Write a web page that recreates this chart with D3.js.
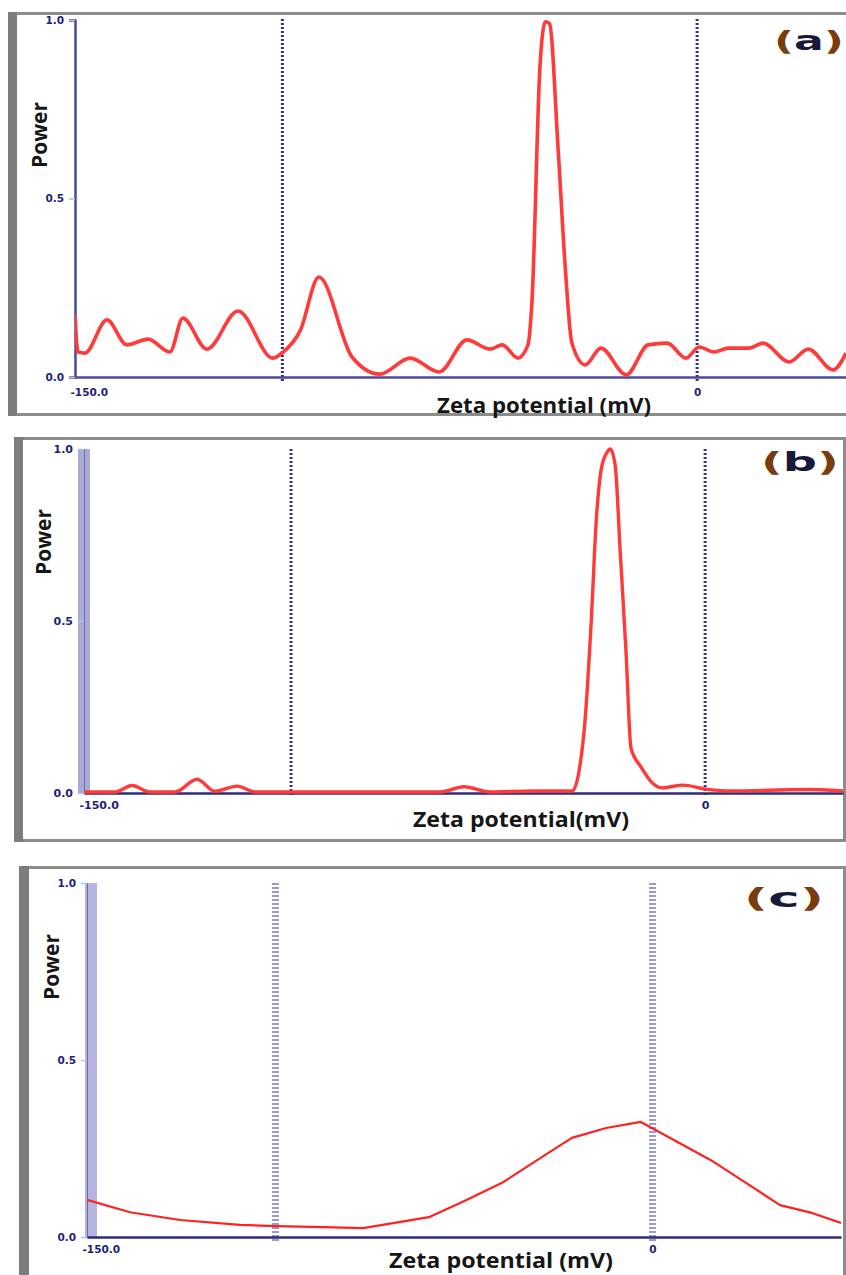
<!DOCTYPE html>
<html><head><meta charset="utf-8">
<script src="https://cdn.jsdelivr.net/npm/d3@7"></script>
<style>body{margin:0;background:#fff} svg{display:block}</style>
</head><body>
<svg id="chart" width="846" height="1275"></svg>
<script>
// ---------- data ----------
const aZeta  = [-150.0,-149.3,-147.6,-142.3,-137.5,-132.4,-127.1,-124.0,-118.2,-110.7,-102.3,-99.8,-95.7,-91.2,-83.2,-76.5,-69.2,-62.2,-55.5,-49.9,-47.0,-43.2,-40.8,-39.8,-37.9,-36.6,-35.6,-33.5,-31.8,-30.2,-27.0,-23.2,-17.1,-11.8,-7.2,-2.7,0.5,4.1,7.5,12.5,15.9,22.2,26.8,32.8,35.9];
const aPower = [0.174,0.070,0.067,0.160,0.090,0.106,0.070,0.165,0.078,0.185,0.053,0.070,0.130,0.280,0.056,0.008,0.053,0.014,0.104,0.078,0.090,0.053,0.090,0.216,0.868,0.995,0.990,0.636,0.308,0.095,0.034,0.081,0.006,0.090,0.095,0.053,0.084,0.070,0.081,0.081,0.095,0.042,0.078,0.020,0.067];

const bZeta  = [-150,-142.5,-138.4,-134.1,-128.0,-122.7,-118.4,-113.0,-108.7,-97.8,-64.0,-58.2,-51.9,-41.5,-32.1,-30.4,-29.0,-27.5,-26.3,-25.1,-23.7,-22.9,-21.7,-20.5,-19.1,-17.9,-15.5,-12.8,-10.4,-5.3,-0.2,6.0,24.2,33.3];
const bPower = [0.003,0.003,0.022,0.003,0.003,0.040,0.005,0.020,0.003,0.003,0.003,0.018,0.003,0.006,0.006,0.067,0.21,0.50,0.79,0.94,0.99,1.0,0.95,0.70,0.41,0.13,0.076,0.030,0.015,0.023,0.012,0.006,0.010,0.006];

const cZeta  = [-150,-138.6,-125.3,-109.4,-100.1,-87.1,-76.8,-59.3,-49.2,-39.9,-30.6,-21.4,-12.3,-3.1,15.5,24.8,33.8,42.3,50];
const cPower = [0.105,0.070,0.048,0.034,0.031,0.028,0.025,0.056,0.105,0.153,0.217,0.280,0.308,0.325,0.217,0.153,0.090,0.068,0.040];

const yTicks = [0, 0.5, 1];
const xTicks = [-150, 0];
const refLines = [-100, 0];
const panelLetters = ["a", "b", "c"];
const xTitles = ["Zeta potential (mV)", "Zeta potential(mV)", "Zeta potential (mV)"];
const yTitle = "Power";

// ---------- layout ----------
const layout = [
  {zeta:aZeta, power:aPower, xMax:35.9, xr:[75,846], yr:[377,20],
   frame:{x:8, top:12, bottom:416, right:null, barW:9},
   bar:null, axisColor:"#4a4a9a",
   dot:{color:"#30308a", w:3, dash:"2,2", top:19, bottom:381},
   powerPos:[40,135], titlePos:[544,413], titleW:214, label:{x:774, y:50, w:70},
   line:{color:"#ff3a3a", w:3.6}, xPad:11.5, lblFont:10.5},
  {zeta:bZeta, power:bPower, xMax:33.3, xr:[84,843], yr:[793,449],
   frame:{x:14, top:437, bottom:842, right:843, barW:9},
   bar:{x:78, w:12, color:"#aaaad6"}, axisColor:"#2c2c78",
   dot:{color:"#34348e", w:3, dash:"2,2", top:449, bottom:797},
   powerPos:[44,542], titlePos:[521,827], titleW:216, label:{x:761, y:471, w:78},
   line:{color:"#ff3a3a", w:3.4}, xPad:8.5, lblFont:11},
  {zeta:cZeta, power:cPower, xMax:50, xr:[87,841], yr:[1237,883],
   frame:{x:19, top:866, bottom:null, right:843, barW:10},
   bar:{x:85, w:12, color:"#b4b4de"}, axisColor:"#2c2c78",
   dot:{color:"#9c9ccc", w:7, dash:"2,2", top:883, bottom:1241},
   powerPos:[52,967], titlePos:[501,1268], titleW:224, label:{x:744, y:907, w:80},
   line:{color:"#ff2020", w:2.2}, xPad:8.5, lblFont:10.5}
];

const svg = d3.select("#chart");
svg.append("rect").attr("width",846).attr("height",1275).attr("fill","#fff");

const fmtY = d => d.toFixed(1);
const fmtX = d => d === 0 ? "0" : d.toFixed(1);

layout.forEach((p, i) => {
  const g = svg.append("g");
  const x = d3.scaleLinear().domain([-150, p.xMax]).range(p.xr);
  const y = d3.scaleLinear().domain([0, 1]).range(p.yr);
  const f = p.frame;
  const frameBottom = f.bottom == null ? 1275 : f.bottom;

  // frame
  g.append("line").attr("x1", f.x).attr("x2", f.right == null ? 846 : f.right + 3)
    .attr("y1", f.top + 1.5).attr("y2", f.top + 1.5).attr("stroke", "#8c8c8c").attr("stroke-width", 3);
  if (f.bottom != null)
    g.append("line").attr("x1", f.x).attr("x2", f.right == null ? 846 : f.right + 3)
      .attr("y1", f.bottom - 1.5).attr("y2", f.bottom - 1.5).attr("stroke", "#8c8c8c").attr("stroke-width", 3);
  g.append("rect").attr("x", f.x).attr("y", f.top).attr("width", f.barW)
    .attr("height", frameBottom - f.top).attr("fill", "#7c7c7c");
  if (f.right != null)
    g.append("rect").attr("x", f.right).attr("y", f.top).attr("width", 3)
      .attr("height", frameBottom - f.top).attr("fill", "#8c8c8c");

  // y-axis bar (light)
  if (p.bar)
    g.append("rect").attr("x", p.bar.x).attr("y", p.yr[1]).attr("width", p.bar.w)
      .attr("height", p.yr[0] - p.yr[1]).attr("fill", p.bar.color);

  // reference dotted lines
  g.selectAll(".ref").data(refLines).join("line")
    .attr("x1", d => x(d)).attr("x2", d => x(d))
    .attr("y1", p.dot.top).attr("y2", p.dot.bottom)
    .attr("stroke", p.dot.color).attr("stroke-width", p.dot.w)
    .attr("stroke-dasharray", p.dot.dash);

  // y axis
  const ya = g.append("g").attr("transform", `translate(${p.xr[0]},0)`)
    .call(d3.axisLeft(y).tickValues(yTicks).tickFormat(fmtY).tickSize(6).tickPadding(5));
  ya.select(".domain").attr("stroke", p.bar ? "#6a6ab0" : p.axisColor).attr("stroke-width", p.bar ? 1 : 2.5);
  ya.selectAll(".tick line").attr("stroke", "#a8c4ea").attr("stroke-width", 1.5);
  ya.selectAll(".tick text").attr("fill", "#1e1e7a").attr("font-family", "DejaVu Sans")
    .attr("font-weight", "bold").attr("font-size", p.lblFont);

  // x axis
  const xa = g.append("g").attr("transform", `translate(0,${p.yr[0]})`)
    .call(d3.axisBottom(x).tickValues(xTicks).tickFormat(fmtX).tickSize(0).tickPadding(p.xPad));
  xa.select(".domain").attr("stroke", p.axisColor).attr("stroke-width", 2.5);
  xa.selectAll(".tick text").attr("fill", "#1e1e7a").attr("font-family", "DejaVu Sans")
    .attr("font-weight", "bold").attr("font-size", p.lblFont)
    .attr("text-anchor", d => d === -150 ? "start" : "middle")
    .attr("x", d => d === -150 ? -5 : 0);

  // data line
  const clipId = "clip" + i;
  svg.append("clipPath").attr("id", clipId).append("rect")
    .attr("x", p.xr[0]).attr("y", p.yr[1] - 10).attr("width", p.xr[1] - p.xr[0])
    .attr("height", p.yr[0] - p.yr[1] + 12);
  const pts = p.zeta.map((z, k) => [z, p.power[k]]);
  const line = d3.line().x(d => x(d[0])).y(d => y(d[1]))
    .curve(i === 2 ? d3.curveLinear : d3.curveMonotoneX);
  g.append("path").datum(pts).attr("clip-path", `url(#${clipId})`)
    .attr("d", line).attr("fill", "none").attr("stroke", p.line.color)
    .attr("stroke-width", p.line.w).attr("stroke-linejoin", "round");

  // titles
  g.append("text").attr("transform", `translate(${p.powerPos[0]},${p.powerPos[1]}) rotate(-90)`)
    .attr("text-anchor", "middle").attr("dy", "0.35em")
    .attr("font-family", "Open Sans").attr("font-weight", "bold").attr("font-size", 21)
    .attr("fill", "#161616").text(yTitle);
  g.append("text").attr("x", p.titlePos[0]).attr("y", p.titlePos[1])
    .attr("text-anchor", "middle")
    .attr("font-family", "Open Sans").attr("font-weight", "bold").attr("font-size", 21)
    .attr("textLength", p.titleW).attr("lengthAdjust", "spacingAndGlyphs")
    .attr("fill", "#161616").text(xTitles[i]);

  // panel label
  const lt = g.append("text").attr("x", p.label.x).attr("y", p.label.y)
    .attr("font-family", "DejaVu Sans").attr("font-weight", "bold").attr("font-size", 26)
    .attr("textLength", p.label.w).attr("lengthAdjust", "spacingAndGlyphs");
  lt.append("tspan").attr("fill", "#7a3c0c").text("(");
  lt.append("tspan").attr("fill", "#18183a").text(panelLetters[i]);
  lt.append("tspan").attr("fill", "#7a3c0c").text(")");
});
</script>
</body></html>
